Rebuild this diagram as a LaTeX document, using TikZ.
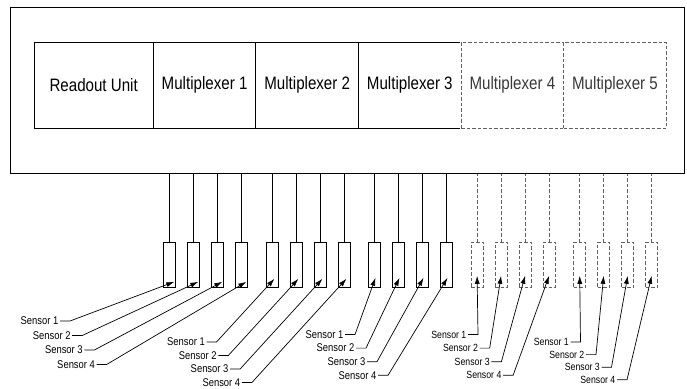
\documentclass[tikz,border=0pt]{standalone}
\usepackage{fontspec}
\newfontfamily\narrowsf{Liberation Sans}[FakeStretch=0.84]
\usetikzlibrary{arrows.meta, positioning, calc}
\definecolor{ghostgray}{HTML}{606060}
\tikzset{
  hubbox/.style = {draw=black, line width=0.9pt, inner sep=0pt, outer sep=0pt},
  unit/.style = {draw=black, line width=0.9pt, minimum height=86pt,
    minimum width=102.6pt, inner sep=0pt, outer sep=0pt,
    font=\narrowsf\fontsize{18}{20}\selectfont},
  unitx/.style = {unit, draw=ghostgray, dash pattern=on 3.5pt off 2pt,
    text=black!78, preaction={draw=white, solid, line width=2pt}},
  sen-on/.style = {draw=black, line width=0.8pt, minimum width=12pt,
    minimum height=45pt, inner sep=0pt, anchor=north},
  sen-off/.style = {sen-on, draw=ghostgray, dash pattern=on 3.5pt off 2pt},
  wire-on/.style = {draw=black, line width=0.8pt},
  wire-off/.style = {draw=ghostgray, line width=0.8pt, dash pattern=on 3.5pt off 2pt},
  lab-on/.style = {font=\narrowsf\fontsize{11.2}{12}\selectfont, inner sep=1.5pt,
    anchor=east},
  lab-off/.style = {lab-on, font=\narrowsf\fontsize{10.4}{12}\selectfont},
  lead/.style = {draw=black, line width=0.7pt, -{Latex[length=8pt,width=5pt]}}
}

\begin{document}
\begin{tikzpicture}[x=1pt, y=-1pt]
  \useasboundingbox (0,0) rectangle (687,388);
  \node [hubbox, minimum width=674pt, minimum height=166.5pt] (hub) at (347,90.25) {};
  \node [unit, minimum width=119.3pt] (ro) at (93.65,85) {Readout Unit};
  \node [unit, right=0pt of ro] (mx1) {Multiplexer 1};
  \node [unit, right=0pt of mx1] (mx2) {Multiplexer 2};
  \node [unit, right=0pt of mx2] (mx3) {Multiplexer 3};
  \node [unitx, right=0pt of mx3] (mx4) {Multiplexer 4};
  \node [unitx, right=0pt of mx4] (mx5) {Multiplexer 5};
  % sensors, one group per multiplexer
  \foreach \g/\kind/\xa/\ya/\dx/\dy/\tx/\ty in {
      1/on/70/321/12.2/14.5/5/-6, 2/on/216.5/342/11.8/13.5/2.5/-9,
      3/on/355/334.5/11/13.6/1/-10, 4/off/478/334.5/11.7/13.6/0/-12,
      5/off/580.5/342/15.5/12.6/0/-12} {
    \foreach \k in {1,...,4} {
      \pgfmathsetmacro\lx{\xa+(\k-1)*\dx}
      \pgfmathsetmacro\ly{\ya+(\k-1)*\dy}
      \node [sen-\kind] (s\g\k) at ($(mx\g.south west)+({16+24*(\k-1)},114)$) {};
      \draw [wire-\kind] (s\g\k.north) -- (s\g\k.north |- hub.south);
      \coordinate (t\g\k) at ($(s\g\k.south)+(\tx,\ty)$);
      \node [lab-\kind] (l\g\k) at (\lx-10,\ly) {Sensor \k};
      \draw [lead] (l\g\k.east) -- ++(10,0) -- (t\g\k);
    }
  }
\end{tikzpicture}
\end{document}
